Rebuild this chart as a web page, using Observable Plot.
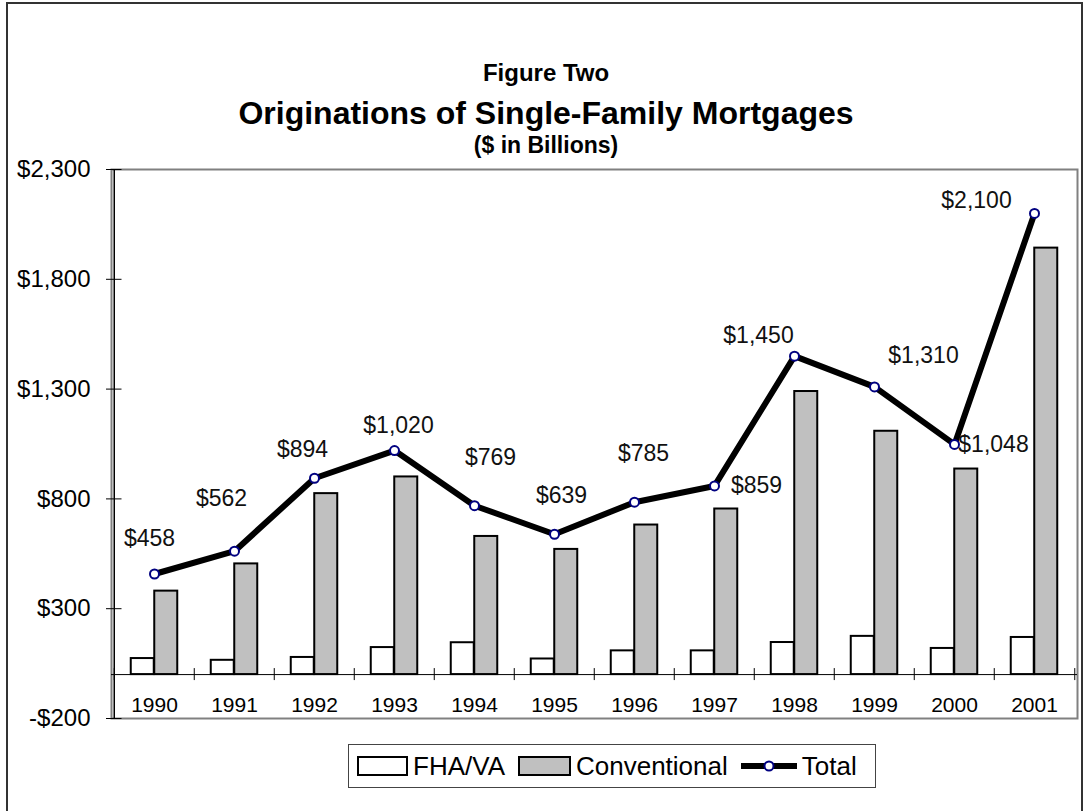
<!DOCTYPE html>
<html>
<head>
<meta charset="utf-8">
<script src="https://cdn.jsdelivr.net/npm/d3@7"></script>
<script src="https://cdn.jsdelivr.net/npm/@observablehq/plot@0.6"></script>
<style>
  html, body { margin: 0; padding: 0; background: #fff; }
  #wrap { position: relative; width: 1089px; height: 811px; overflow: hidden; font-family: "Liberation Sans", Arial, sans-serif; color: #000; }
  #border { position: absolute; left: 6px; top: 2px; width: 1077px; height: 815px; border: 2px solid #333; box-sizing: border-box; }
  .t { position: absolute; left: 7px; width: 1078px; text-align: center; font-weight: bold; white-space: nowrap; }
  #chart { position: absolute; left: 0; top: 0; }
  #legend { position: absolute; left: 348px; top: 744px; width: 528px; height: 44px; border: 1.5px solid #444; box-sizing: border-box; display: flex; align-items: center; font-size: 26px; background: #fff; }
  .sw { display: inline-block; width: 47px; height: 16px; border: 2px solid #000; }
  .lab { margin-left: 5px; }
</style>
</head>
<body>
<div id="wrap">
  <div id="border"></div>
  <div id="chart"></div>
  <div class="t" style="top:60px; font-size:24px; line-height:26px;">Figure Two</div>
  <div class="t" style="top:96px; font-size:32px; line-height:34px;">Originations of Single-Family Mortgages</div>
  <div class="t" style="top:132px; font-size:23px; line-height:26px;">($ in Billions)</div>
  <div id="legend"></div>
</div>
<script>
// ---- data ----
const years = ["1990","1991","1992","1993","1994","1995","1996","1997","1998","1999","2000","2001"];
const fhaVa = [73, 65, 78, 123, 145, 71, 108, 108, 146, 174, 119, 169];
const conventional = [380, 504, 824, 900, 629, 570, 681, 754, 1289, 1108, 936, 1942];
const totals = [458, 562, 894, 1020, 769, 639, 785, 859, 1450, 1310, 1048, 2100];
const yTicks = [-200, 300, 800, 1300, 1800, 2300];
const seriesNames = ["FHA/VA", "Conventional", "Total"];

// ---- layout (label nudges in px relative to each point) ----
const labelNudge = [[-5,-35],[-13,-53],[-12,-29],[4,-25],[16,-48],[7,-39],[9,-49],[42,0],[-36,-21],[49,-31],[39,0],[-58,-13]];

const money = d => (d < 0 ? "-" : "") + "$" + d3.format(",")(Math.abs(d));
const fhaData = years.map((y, i) => ({year: y, value: fhaVa[i]}));
const convData = years.map((y, i) => ({year: y, value: conventional[i]}));
const totData = years.map((y, i) => ({year: y, value: totals[i]}));

const W = 1089, H = 811, mL = 111, mR = 12, mT = 169, mB = 93;
const bw = (W - mL - mR) / years.length;
const barW = 23.5;
const firstYear = () => years[0];

const plot = Plot.plot({
  width: W, height: H,
  marginTop: mT, marginBottom: mB, marginLeft: mL, marginRight: mR,
  style: {fontFamily: "Liberation Sans, Arial, sans-serif", background: "transparent", color: "#000", overflow: "visible"},
  x: {type: "band", domain: years, padding: 0, axis: null},
  y: {domain: [-200, 2300], axis: null},
  marks: [
    Plot.frame({stroke: "#808080", strokeWidth: 2}),
    Plot.barY(fhaData, {x: "year", y: "value", fill: "#fff", stroke: "#000", strokeWidth: 2, insetLeft: bw/2 - barW, insetRight: bw/2}),
    Plot.barY(convData, {x: "year", y: "value", fill: "#c0c0c0", stroke: "#000", strokeWidth: 2, insetLeft: bw/2, insetRight: bw/2 - barW}),
    Plot.ruleY([0], {stroke: "#000", strokeWidth: 1}),
    Plot.ruleX(years, {x: d => d, y1: 0, y2: 0, insetTop: -6, insetBottom: -6, dx: -bw/2, stroke: "#000", strokeWidth: 1}),
    Plot.ruleX([years[years.length - 1]], {x: d => d, y1: 0, y2: 0, insetTop: -6, insetBottom: -6, dx: bw/2, stroke: "#000", strokeWidth: 1}),
    Plot.ruleX([years[0]], {x: d => d, dx: -bw/2, stroke: "#000", strokeWidth: 1.5}),
    Plot.ruleY(yTicks, {y: d => d, x1: firstYear, x2: firstYear, insetLeft: -8, insetRight: bw - 8, stroke: "#000", strokeWidth: 1}),
    Plot.axisY({ticks: yTicks, tickFormat: money, tickSize: 0, tickPadding: 21, fontSize: 24, label: null}),
    Plot.line(totData, {x: "year", y: "value", stroke: "#000", strokeWidth: 6, strokeLinejoin: "miter"}),
    Plot.dot(totData, {x: "year", y: "value", r: 4.5, fill: "#fff", stroke: "#000080", strokeWidth: 2}),
    ...totData.map((d, i) => Plot.text([d], {x: "year", y: "value", text: v => money(v.value), dx: labelNudge[i][0], dy: labelNudge[i][1], fontSize: 23, fill: "#111", textAnchor: "middle", lineAnchor: "middle"})),
    Plot.text(years, {x: d => d, frameAnchor: "bottom", dy: -13, lineAnchor: "middle", fontSize: 21, fill: "#000"})
  ]
});
document.getElementById("chart").appendChild(plot);

// ---- legend ----
const leg = document.getElementById("legend");
leg.innerHTML =
  `<span style="margin-left:8px" class="sw" ></span><span class="lab">${seriesNames[0]}</span>` +
  `<span style="margin-left:13px;background:#c0c0c0;width:49px" class="sw"></span><span class="lab">${seriesNames[1]}</span>` +
  `<svg style="margin-left:12px" width="58" height="20"><line x1="1" y1="10" x2="57" y2="10" stroke="#000" stroke-width="6"/><circle cx="29" cy="10" r="4.5" fill="#fff" stroke="#000080" stroke-width="2"/></svg><span class="lab" style="margin-left:4px">${seriesNames[2]}</span>`;
</script>
</body>
</html>
